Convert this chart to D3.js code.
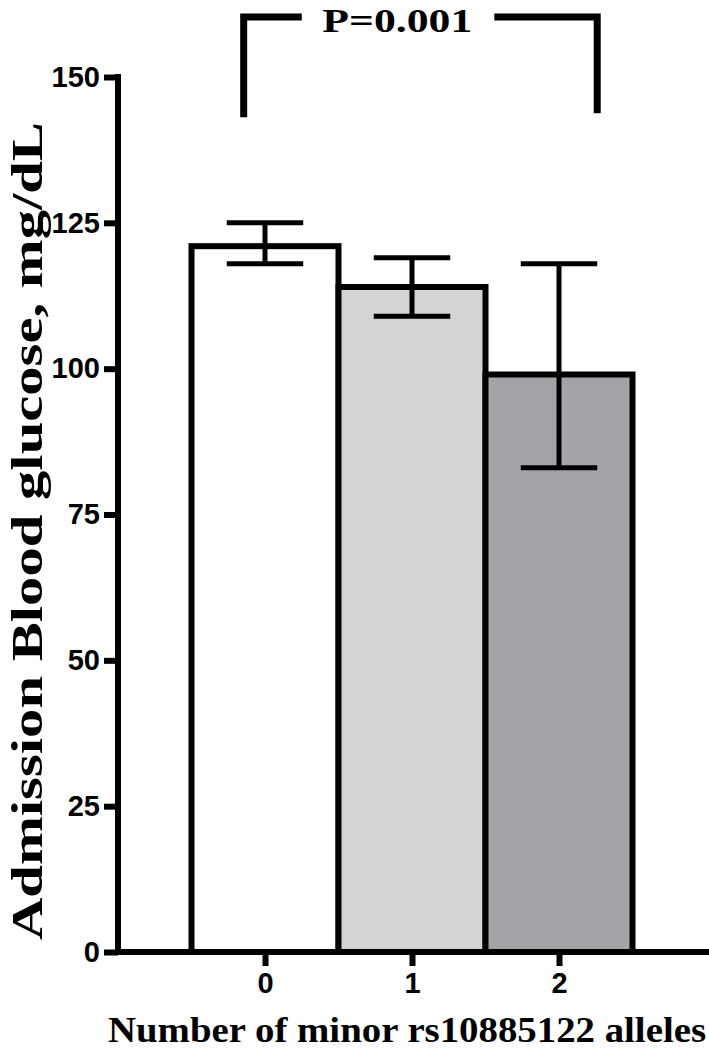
<!DOCTYPE html>
<html>
<head>
<meta charset="utf-8">
<script src="https://cdn.jsdelivr.net/npm/d3@7"></script>
<style>
  body { margin: 0; background: #fff; }
  svg { display: block; }
</style>
</head>
<body>
<div id="chart"></div>
<script>
// data
const alleles = [0, 1, 2];
const meanGlucose = [121, 114, 99];
const errLow = [118, 109, 83];
const errHigh = [125, 119, 118];
const barFills = ["#ffffff", "#d4d4d4", "#a4a3a8"];
const yTicks = [0, 25, 50, 75, 100, 125, 150];
const pLabel = "P=0.001";

const width = 709, height = 1050;
const svg = d3.select("#chart").append("svg").attr("width", width).attr("height", height);

const x = d3.scaleLinear().domain([-1, 3]).range([118, 706]);
const y = d3.scaleLinear().domain([0, 150]).range([952, 77]);

const tickFont = "'Liberation Sans', Arial, sans-serif";
const titleFont = "'Liberation Serif', 'Times New Roman', serif";

// bars
svg.append("g").selectAll("rect")
    .data(alleles).enter().append("rect")
    .attr("x", d => x(d - 0.5))
    .attr("y", (d, i) => y(meanGlucose[i]))
    .attr("width", x(0.5) - x(-0.5))
    .attr("height", (d, i) => y(0) - y(meanGlucose[i]))
    .attr("fill", (d, i) => barFills[i])
    .attr("stroke", "#000")
    .attr("stroke-width", 6);

// error bars
const capHalf = 0.26;
const eb = svg.append("g").attr("stroke", "#000").attr("stroke-width", 5);
alleles.forEach((d, i) => {
    eb.append("line").attr("x1", x(d)).attr("x2", x(d)).attr("y1", y(errLow[i])).attr("y2", y(errHigh[i]));
    eb.append("line").attr("x1", x(d - capHalf)).attr("x2", x(d + capHalf)).attr("y1", y(errLow[i])).attr("y2", y(errLow[i]));
    eb.append("line").attr("x1", x(d - capHalf)).attr("x2", x(d + capHalf)).attr("y1", y(errHigh[i])).attr("y2", y(errHigh[i]));
});

// y axis
const yAxis = svg.append("g").attr("transform", `translate(${x(-1)},0)`)
    .call(d3.axisLeft(y).tickValues(yTicks).tickSize(14).tickPadding(4));
yAxis.select(".domain").attr("d", `M0,${y(150)}V${y(0)}`).attr("stroke-width", 6).attr("stroke-linecap", "square");
yAxis.selectAll(".tick line").attr("stroke-width", 6);
yAxis.selectAll(".tick text").attr("font-family", tickFont).attr("font-weight", "bold")
    .attr("font-size", 29).attr("fill", "#000");

// x axis
const xAxis = svg.append("g").attr("transform", `translate(0,${y(0)})`)
    .call(d3.axisBottom(x).tickValues(alleles).tickFormat(d3.format("d")).tickSize(14).tickPadding(6));
xAxis.select(".domain").attr("d", `M${x(-1)},0H${x(3)}`).attr("stroke-width", 6).attr("stroke-linecap", "square");
xAxis.selectAll(".tick line").attr("stroke-width", 6);
xAxis.selectAll(".tick text").attr("font-family", tickFont).attr("font-weight", "bold")
    .attr("font-size", 29).attr("fill", "#000");

// significance bracket between allele 0 and 2
const bLeft = -0.145, bRight = 2.26, bTop = 160.3, bLow = 143.1;
const br = svg.append("g").attr("fill", "none").attr("stroke", "#000").attr("stroke-width", 7);
br.append("path").attr("d", `M${x(bLeft)},${y(bLow)}V${y(bTop)}H${x(0.25)}`);
br.append("path").attr("d", `M${x(1.56)},${y(bTop)}H${x(bRight)}V${y(bLow + 0.7)}`);
svg.append("text")
    .attr("x", x(0.9)).attr("y", 32)
    .attr("text-anchor", "middle")
    .attr("font-family", titleFont).attr("font-weight", "bold").attr("font-size", 34)
    .attr("textLength", 150).attr("lengthAdjust", "spacingAndGlyphs")
    .text(pLabel);

// axis titles
svg.append("text")
    .attr("x", 407).attr("y", 1042)
    .attr("text-anchor", "middle")
    .attr("font-family", titleFont).attr("font-weight", "bold").attr("font-size", 35)
    .attr("textLength", 598).attr("lengthAdjust", "spacingAndGlyphs")
    .text("Number of minor rs10885122 alleles");

svg.append("text")
    .attr("transform", "translate(42,531) rotate(-90)")
    .attr("text-anchor", "middle")
    .attr("font-family", titleFont).attr("font-weight", "bold").attr("font-size", 44)
    .attr("textLength", 818).attr("lengthAdjust", "spacingAndGlyphs")
    .text("Admission Blood glucose, mg/dL");
</script>
</body>
</html>
